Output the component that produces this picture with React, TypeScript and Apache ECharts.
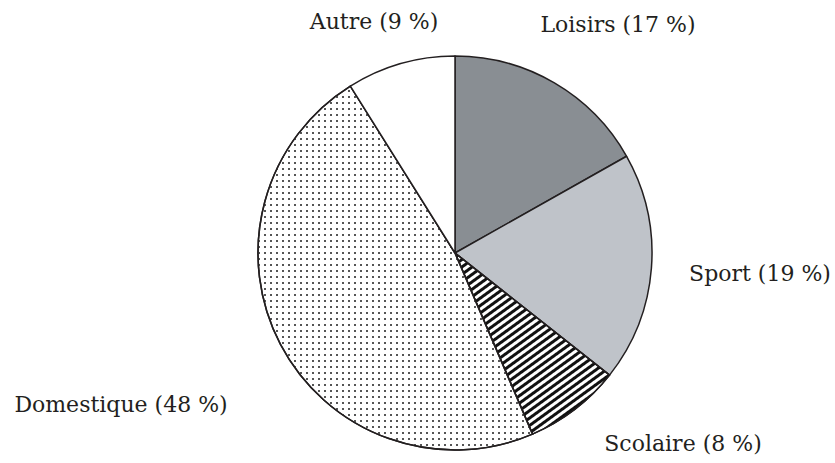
import React, { useEffect, useRef } from "react";
import * as echarts from "echarts";

const categories = ["Loisirs", "Sport", "Scolaire", "Domestique", "Autre"];
const values = [17, 19, 8, 48, 9];

const labelPos: [number, number][] = [
  [618, 24],
  [760, 273],
  [683, 443],
  [121, 404],
  [374, 21],
];

const fills = ["#898e93", "#bfc3c9", "#ffffff", "#ffffff", "#ffffff"];
const decals: any[] = [
  undefined,
  undefined,
  {
    symbol: "rect",
    color: "#111111",
    dashArrayX: [1, 0],
    dashArrayY: [3, 3],
    rotation: -Math.PI / 5,
    symbolSize: 1,
  },
  {
    symbol: "rect",
    color: "#555555",
    dashArrayX: [2, 4],
    dashArrayY: [2, 4],
    symbolSize: 1,
  },
  undefined,
];

export default function App() {
  const ref = useRef<HTMLDivElement>(null);
  useEffect(() => {
    if (!ref.current) return;
    const chart = echarts.init(ref.current, null, { renderer: "svg" });
    chart.setOption({
      animation: false,
      backgroundColor: "#ffffff",
      series: [
        {
          type: "pie",
          center: [455, 253],
          radius: [0, 197],
          startAngle: 90,
          clockwise: true,
          silent: true,
          data: categories.map((name, i) => ({
            name,
            value: values[i],
            itemStyle: {
              color: fills[i],
              borderColor: "#231f20",
              borderWidth: 1.5,
              ...(decals[i] ? { decal: decals[i] } : {}),
            },
          })),
          label: {
            show: true,
            formatter: "{b} ({c} %)",
            fontFamily: "DejaVu Serif",
            fontSize: 22,
            color: "#231f20",
            overflow: "none",
            alignTo: "none",
            bleedMargin: 0,
          },
          labelLine: { show: false },
          labelLayout: (params: any) => {
            const p = labelPos[params.dataIndex];
            return { x: p[0], y: p[1], align: "center", verticalAlign: "middle" };
          },
        },
      ],
    });
    return () => chart.dispose();
  }, []);
  return (
    <div
      ref={ref}
      style={{ position: "fixed", left: 0, top: 0, width: 835, height: 463 }}
    />
  );
}
